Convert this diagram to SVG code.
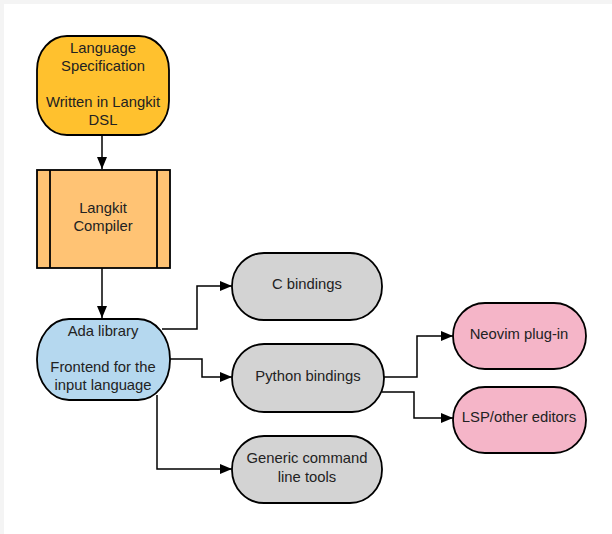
<svg xmlns="http://www.w3.org/2000/svg" width="612" height="534" viewBox="0 0 612 534">
<defs>
<marker id="arr" viewBox="0 0 12 10" refX="12" refY="5" markerWidth="12" markerHeight="10" markerUnits="userSpaceOnUse" orient="auto">
<path d="M0,0 L12,5 L0,10 Z" fill="#000"/>
</marker>
</defs>
<style>
.n{stroke:#000;stroke-width:1.8}
.t{font-family:"Liberation Sans",Arial,sans-serif;font-size:14.8px;fill:#222;text-anchor:middle}
.c{fill:none;stroke:#000;stroke-width:1.5;marker-end:url(#arr)}
</style>
<rect x="0" y="0" width="612" height="534" fill="#f4f4f4"/>
<rect x="4" y="4" width="608" height="530" fill="#fff"/>
<g id="connectors">
<path class="c" d="M102,135 V169"/>
<path class="c" d="M102,268 V318"/>
<path class="c" d="M162,329 H197 V286 H232"/>
<path class="c" d="M170,359 H202 V377 H232"/>
<path class="c" d="M157,395 V469 H232"/>
<path class="c" d="M384,377 H417 V336 H453"/>
<path class="c" d="M382,392 H414 V418 H453"/>
</g>
<g id="lang-spec">
<rect class="n" x="37" y="36" width="132" height="99" rx="30" ry="34" fill="#FFC12E"/>
<text class="t" x="103" y="53">Language</text>
<text class="t" x="103" y="71">Specification</text>
<text class="t" x="103" y="107">Written in Langkit</text>
<text class="t" x="103" y="125">DSL</text>
</g>
<g id="compiler">
<rect class="n" x="37" y="170" width="133" height="98" fill="#FFC374"/>
<line class="n" x1="50" y1="170" x2="50" y2="268"/>
<line class="n" x1="157" y1="170" x2="157" y2="268"/>
<text class="t" x="103" y="213">Langkit</text>
<text class="t" x="103" y="231">Compiler</text>
</g>
<g id="ada">
<rect class="n" x="37" y="319" width="133" height="81" rx="32" ry="40" fill="#B5D8EF"/>
<text class="t" x="103" y="336">Ada library</text>
<text class="t" x="103" y="372">Frontend for the</text>
<text class="t" x="103" y="390">input language</text>
</g>
<g id="c-bindings">
<rect class="n" x="232" y="253" width="150" height="67" rx="32" ry="33" fill="#D3D3D3"/>
<text class="t" x="307" y="289">C bindings</text>
</g>
<g id="python">
<rect class="n" x="232" y="344" width="152" height="68" rx="32" ry="34" fill="#D3D3D3"/>
<text class="t" x="308" y="381">Python bindings</text>
</g>
<g id="generic">
<rect class="n" x="232" y="436" width="150" height="67" rx="32" ry="33" fill="#D3D3D3"/>
<text class="t" x="307" y="463">Generic command</text>
<text class="t" x="307" y="482">line tools</text>
</g>
<g id="neovim">
<rect class="n" x="453" y="303" width="133" height="66" rx="32" ry="33" fill="#F5B5C8"/>
<text class="t" x="519" y="339">Neovim plug-in</text>
</g>
<g id="lsp">
<rect class="n" x="453" y="387" width="133" height="66" rx="32" ry="33" fill="#F5B5C8"/>
<text class="t" x="519" y="422">LSP/other editors</text>
</g>
</svg>
